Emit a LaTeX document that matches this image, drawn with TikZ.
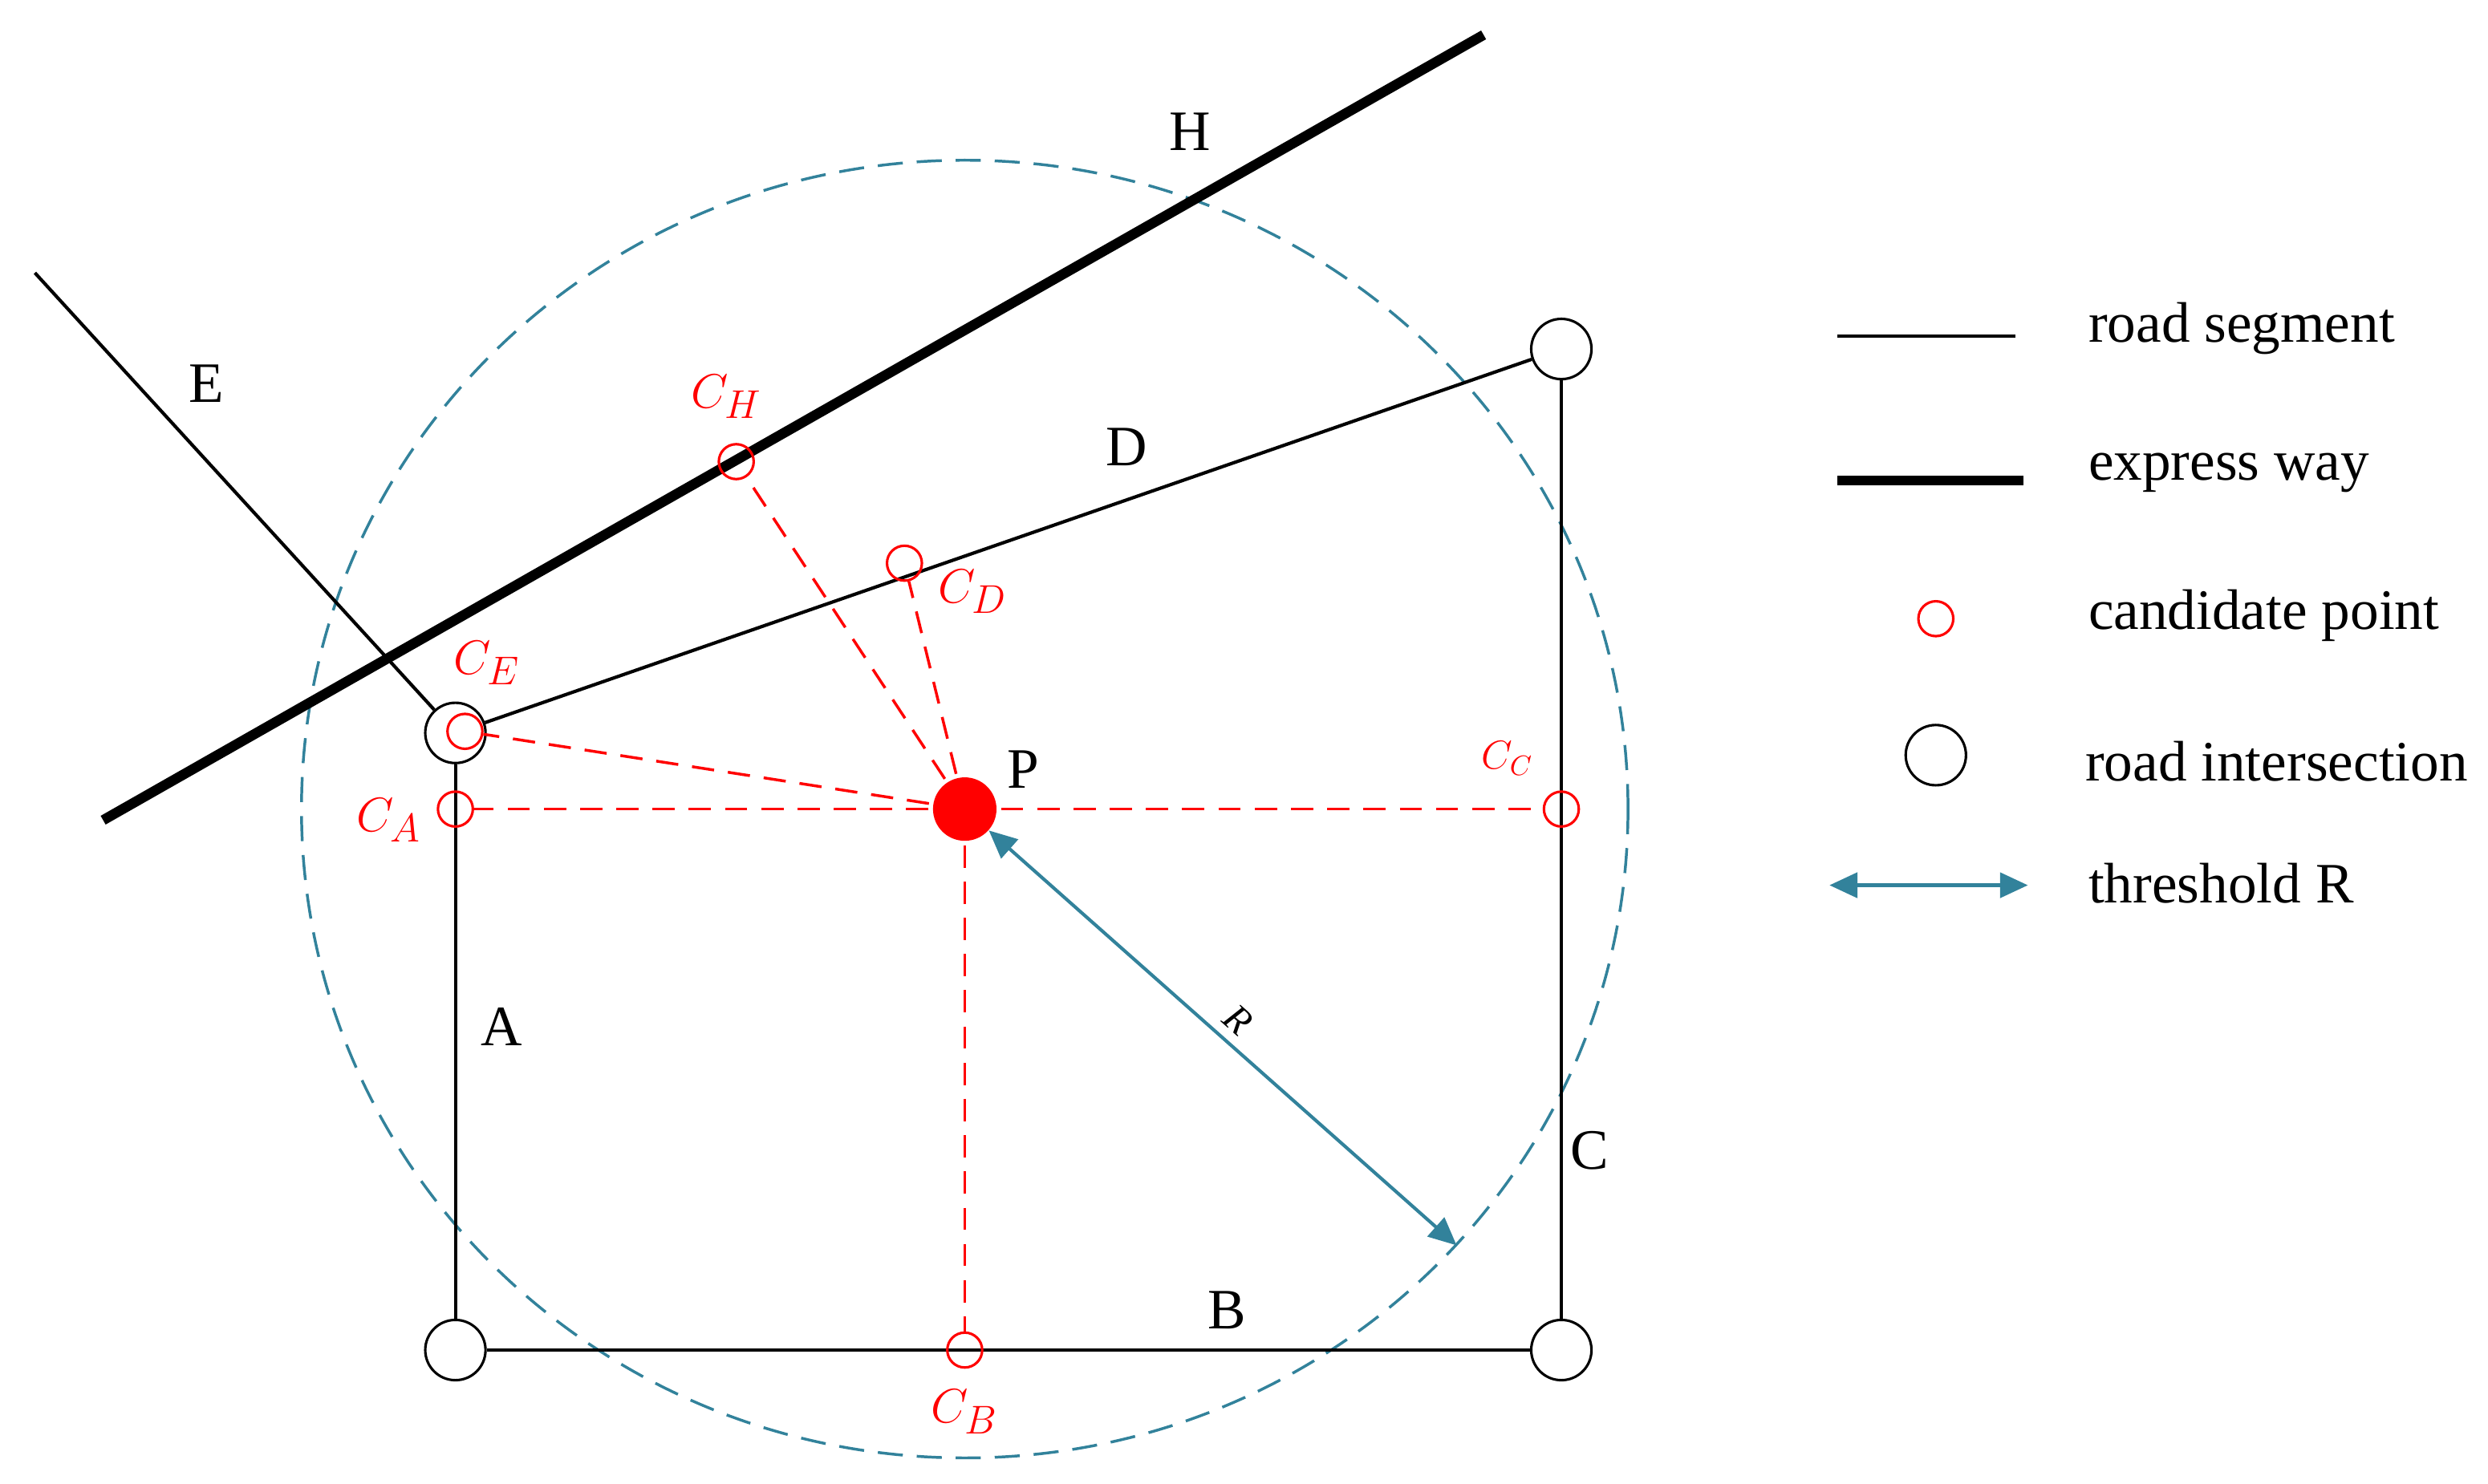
\documentclass[tikz,border=0pt]{standalone}
\usepackage{fontspec}
\setmainfont{Liberation Serif}
\usetikzlibrary{arrows.meta,positioning}
\definecolor{teal}{RGB}{50,130,155}
\tikzset{
  road/.style={line width=1.2pt},
  express/.style={line width=3.6pt},
  cross/.style={circle,draw,fill=white,line width=0.9pt,minimum size=0.76cm,inner sep=0pt},
  cand/.style={circle,draw=red,line width=0.9pt,minimum size=0.44cm,inner sep=0pt},
  link/.style={red,dashed,line width=1pt,dash pattern=on 8pt off 5pt},
  lbl/.style={font=\fontsize{20.5}{24}\selectfont},
  clbl/.style={red,font=\fontsize{19}{22}\selectfont},
  thr/.style={teal,line width=1.2pt,{Triangle[width=9pt,length=10pt]}-{Triangle[width=9pt,length=10pt]}}
}
\begin{document}
\begin{tikzpicture}[x=0.02cm,y=-0.02cm]
\useasboundingbox (0,0) rectangle (1568,935);
% threshold circle
\draw[teal,dashed,line width=1pt,dash pattern=on 9pt off 5pt] (608,510) ellipse [x radius=418,y radius=409];
% road intersections
\node[cross] (ia) at (287,462) {};
\node[cross] (ib) at (287,851) {};
\node[cross] (ic) at (984,851) {};
\node[cross] (id) at (984,220) {};
\coordinate (e0) at (22,172);
\coordinate (h0) at (65,517);
\coordinate (h1) at (935,22);
% roads
\draw[road] (e0) -- (ia);
\draw[road] (ia) -- (id);
\draw[road] (ia) -- (ib);
\draw[road] (ib) -- (ic);
\draw[road] (ic) -- (id);
\draw[express] (h0) -- (h1);
% point P and candidates
\node[circle,fill=red,minimum size=0.8cm,inner sep=0pt] (p) at (608,510) {};
\node[cand] (ch) at (464,291) {};
\node[cand] (cd) at (570,355) {};
\node[cand] (ce) at (293,461) {};
\node[cand] (ca) at (287,510) {};
\node[cand] (cc) at (984,510) {};
\node[cand] (cb) at (608,851) {};
\foreach \c in {ch,cd,ce,ca,cc,cb}
  \draw[link] (p.center) -- (\c);
\coordinate (rr) at (918,785);
\draw[thr] (p) -- (rr) node[midway,sloped,above,black,font=\itshape\fontsize{14}{16}\selectfont] {R};
% labels
\node[lbl] at (130,242) {E};
\node[lbl] at (750,83) {H};
\node[lbl] at (710,282) {D};
\node[lbl] at (316,647) {A};
\node[lbl] at (773,826) {B};
\node[lbl] at (1002,725) {C};
\node[lbl] at (645,485) {P};
\node[clbl] at (458,250) {$C_H$};
\node[clbl] at (613,373) {$C_D$};
\node[clbl] at (307,418) {$C_E$};
\node[clbl] at (245,517) {$C_A$};
\node[clbl,font=\fontsize{14}{16}\selectfont] at (950,478) {$C_C$};
\node[clbl] at (608,890) {$C_B$};
% legend
\coordinate (l1a) at (1158,212); \coordinate (l1b) at (1270,212);
\draw[road] (l1a) -- (l1b);
\node[lbl,anchor=west] at (1310,207) {road segment};
\coordinate (l2a) at (1158,303); \coordinate (l2b) at (1275,303);
\draw[express] (l2a) -- (l2b);
\node[lbl,anchor=west] at (1310,298) {express way};
\node[cand] (lc) at (1220,390) {};
\node[lbl,anchor=west] at (1310,388) {candidate point};
\node[cross] (li) at (1220,476) {};
\node[lbl,anchor=west] at (1308,480) {road intersection};
\coordinate (l5a) at (1153,558); \coordinate (l5b) at (1278,558);
\draw[thr] (l5a) -- (l5b);
\node[lbl,anchor=west] at (1310,557) {threshold R};
\end{tikzpicture}
\end{document}
